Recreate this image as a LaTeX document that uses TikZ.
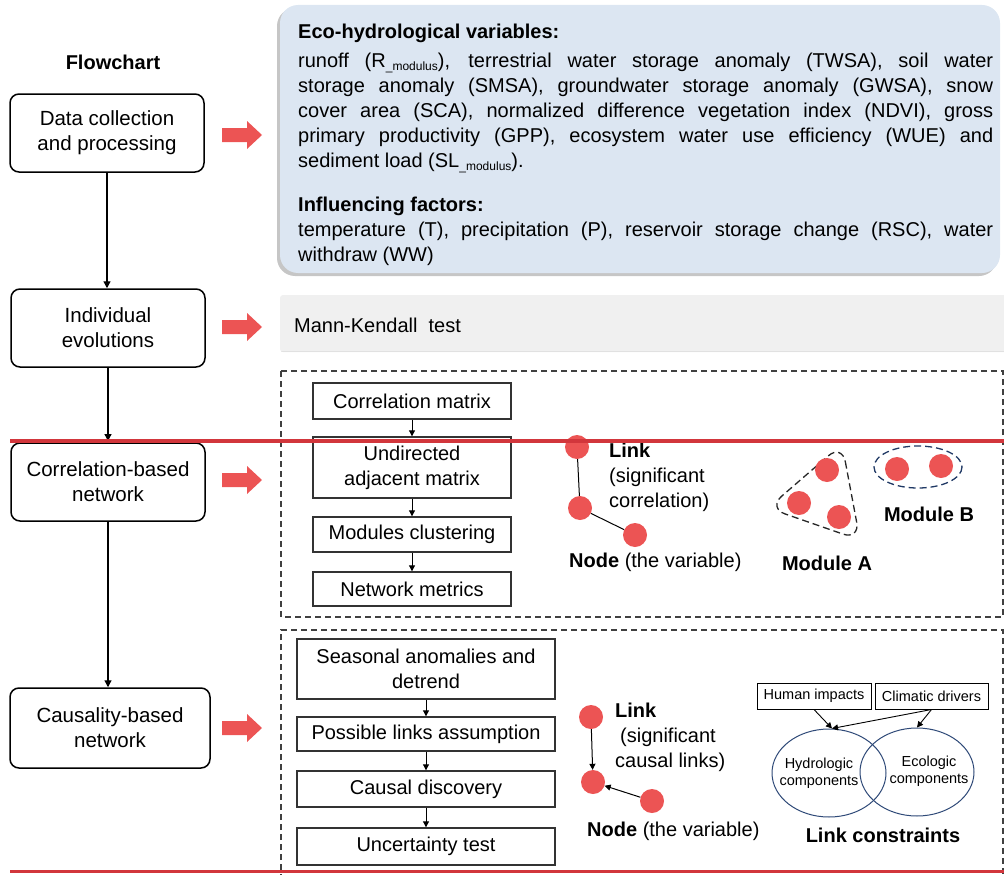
\documentclass[tikz,border=0pt]{standalone}
\usepackage{fontspec}
\setmainfont{Liberation Sans}
\usetikzlibrary{arrows.meta,shapes.geometric,shadows}
\definecolor{bluefill}{HTML}{DCE6F2}
\definecolor{bandgray}{HTML}{F0F0F0}
\definecolor{nodered}{HTML}{EC5454}
\definecolor{redline}{HTML}{D2363C}
\definecolor{navy}{HTML}{2F4A78}
\definecolor{navydark}{HTML}{1F3864}
\newcommand\fsz[2]{\fontsize{#1}{#2}\selectfont}
\newcommand\msub{\raisebox{-0.35ex}{\fontsize{12}{12}\selectfont\_modulus}}
\begin{document}
\begin{tikzpicture}[x=1pt,y=-1pt,
  flowbox/.style={draw, line width=1.5pt, rounded corners=9pt, minimum width=194pt, minimum height=78pt, align=center, font=\fsz{20.5}{25}, inner sep=2pt},
  stepbox/.style={draw=black!80, line width=1.4pt, minimum width=198pt, align=center, font=\fsz{20}{25}, inner sep=2pt},
  flowarrow/.style={-{Triangle[length=7pt,width=7pt]}, line width=1.3pt},
  smallarrow/.style={-{Triangle[length=6pt,width=6pt]}, line width=1pt},
  dot/.style={circle, fill=nodered, minimum size=24pt, inner sep=0pt},
  txt/.style={inner sep=0pt, font=\fsz{20}{25}},
  dashbox/.style={dash pattern=on 6pt off 4pt, line width=1.2pt, black!75},
  redarrow/.pic={\fill[nodered] (0,-7) -- (25,-7) -- (25,-14) -- (40,0) -- (25,14) -- (25,7) -- (0,7) -- cycle;}
]
\useasboundingbox (0,0) rectangle (1004,875);

% left flowchart
\node[txt, font=\bfseries\fsz{20}{24}] (title) at (113,62) {Flowchart};
\node[flowbox] (b1) at (107,133) {Data collection\\and processing};
\node[flowbox] (b2) at (108,328) {Individual\\evolutions};
\node[flowbox] (b3) at (108,482) {Correlation-based\\network};
\node[flowbox, minimum width=200pt, minimum height=80pt] (b4) at (110,728) {Causality-based\\network};
\draw[flowarrow] (b1.south) -- (b1.south |- b2.north);
\draw[flowarrow] (b2.south) -- (b2.south |- 0,441);
\draw[flowarrow] (b3.south) -- (b3.south |- b4.north);

\pic at (222,135) {redarrow};
\pic at (222,327) {redarrow};
\pic at (222,480) {redarrow};
\pic at (222,728) {redarrow};

% blue box
\fill[bluefill, rounded corners=18pt, drop shadow={shadow xshift=-3pt, shadow yshift=-3pt, opacity=0.45}] (280,5) rectangle (1000,273);
\node[txt, anchor=north west, text width=695pt, align=justify] (ecotext) at (298,24) {%
\textbf{Eco-hydrological variables:}\par\vspace{3.5pt}
runoff (R\msub), terrestrial water storage anomaly (TWSA), soil water\linebreak
storage anomaly (SMSA), groundwater storage anomaly (GWSA), snow\linebreak
cover area (SCA), normalized difference vegetation index (NDVI), gross\linebreak
primary productivity (GPP), ecosystem water use efficiency (WUE) and\linebreak
sediment load (SL\msub).};
\node[txt, anchor=north west, text width=695pt, align=justify] (inftext) at (298,197) {%
\textbf{Influencing factors:}\par
temperature (T), precipitation (P), reservoir storage change (RSC), water\linebreak
withdraw (WW)};

% Mann-Kendall band
\fill[bandgray, rounded corners=3pt] (280,295) rectangle (1008,352);
\draw[white!80!black, opacity=0.4, line width=1pt] (281,351) -- (1004,351);
\node[txt, anchor=west] (mk) at (294,325) {Mann-Kendall\ \ test};

% dashed boxes
\draw[dashbox] (281,371) rectangle (1003,617);
\draw[dashbox] (281,880) -- (281,630) -- (1003,630) -- (1003,880);

% correlation steps
\node[stepbox, minimum height=36pt] (cm) at (412,401) {Correlation matrix};
\node[stepbox, minimum height=61pt] (ua) at (412,467.5) {Undirected\\adjacent matrix};
\node[stepbox, minimum height=35pt] (mc) at (412,534.5) {Modules clustering};
\node[stepbox, minimum height=34pt] (nm) at (412,589) {Network metrics};
\draw[smallarrow] (cm) -- (ua);
\draw[smallarrow] (ua) -- (mc);
\draw[smallarrow] (mc) -- (nm);

% correlation diagram
\node[dot] (c1) at (577,447) {};
\node[dot] (c2) at (580,508) {};
\node[dot] (c3) at (635,535) {};
\draw[line width=1pt] (c1) -- (c2) -- (c3);
\node[txt, anchor=west, align=left] (linktxt) at (609,477) {\textbf{Link}\\(significant\\correlation)};
\node[txt, anchor=west] (nodetxt) at (569,562) {\textbf{Node} (the variable)};

% modules
\draw[dash pattern=on 7pt off 4pt, line width=1.3pt, black!85, rounded corners=18pt] (842,444) -- (860,540) -- (768,508) -- cycle;
\node[dot] (ma1) at (827,470) {};
\node[dot] (ma2) at (799,503) {};
\node[dot] (ma3) at (839,517) {};
\node[txt, font=\bfseries\fsz{20}{24}] (modA) at (827,563) {Module A};
\draw[dash pattern=on 7pt off 4pt, line width=1.3pt, navydark] (918,467) ellipse [x radius=44, y radius=21];
\node[dot] (mb1) at (897,469) {};
\node[dot] (mb2) at (941,466) {};
\node[txt, font=\bfseries\fsz{20}{24}] (modB) at (929,514) {Module B};

% causality steps
\node[stepbox, minimum width=258pt, minimum height=60pt] (sa) at (426,669) {Seasonal anomalies and\\detrend};
\node[stepbox, minimum width=258pt, minimum height=34pt] (pl) at (426,734) {Possible links assumption};
\node[stepbox, minimum width=258pt, minimum height=36pt] (cdisc) at (426,789) {Causal discovery};
\node[stepbox, minimum width=258pt, minimum height=37pt] (ut) at (426,846.5) {Uncertainty test};
\draw[smallarrow] (sa) -- (pl);
\draw[smallarrow] (pl) -- (cdisc);
\draw[smallarrow] (cdisc) -- (ut);

% causal diagram
\node[dot] (d1) at (591,717) {};
\node[dot] (d2) at (593,782) {};
\node[dot] (d3) at (652,801) {};
\draw[smallarrow] (d1) -- (d2);
\draw[smallarrow] (d3) -- (d2);
\node[txt, anchor=west, align=left] (clinktxt) at (615,737) {\textbf{Link}\\\hspace*{5pt}(significant\\causal links)};
\node[txt, anchor=west] (cnodetxt) at (587,831) {\textbf{Node} (the variable)};

% link constraints
\node[draw, line width=1pt, minimum width=114pt, minimum height=26pt, inner sep=1pt, font=\fsz{14.5}{17}] (hum) at (814,696) {Human impacts};
\node[draw, line width=1pt, minimum width=113pt, minimum height=26pt, inner sep=1pt, font=\fsz{14.5}{17}] (clim) at (931.5,696) {Climatic drivers};
\node[ellipse, draw=navy, line width=1pt, minimum width=114pt, minimum height=88pt, inner sep=0pt] (hyd) at (829,773) {};
\node[ellipse, draw=navy, line width=1pt, minimum width=114pt, minimum height=88pt, inner sep=0pt] (eco) at (917,772) {};
\node[txt, align=center, font=\fsz{14.5}{17}] (hydtxt) at (819,773) {Hydrologic\\components};
\node[txt, align=center, font=\fsz{14.5}{17}] (ecotxt) at (929,771) {Ecologic\\components};
\draw[smallarrow, line width=0.9pt] (hum.south) -- ([xshift=3pt]hyd.north);
\draw[smallarrow, line width=0.9pt] (clim.south) -- ([xshift=3pt]hyd.north);
\draw[smallarrow, line width=0.9pt] (clim.south) -- (eco.north);
\node[txt, font=\bfseries\fsz{20}{24}] (lc) at (883,835) {Link constraints};

% red lines
\draw[redline, line width=4pt] (10,441) -- (1004,441);
\draw[redline, line width=3pt] (10,871) -- (1004,871);
\end{tikzpicture}
\end{document}
